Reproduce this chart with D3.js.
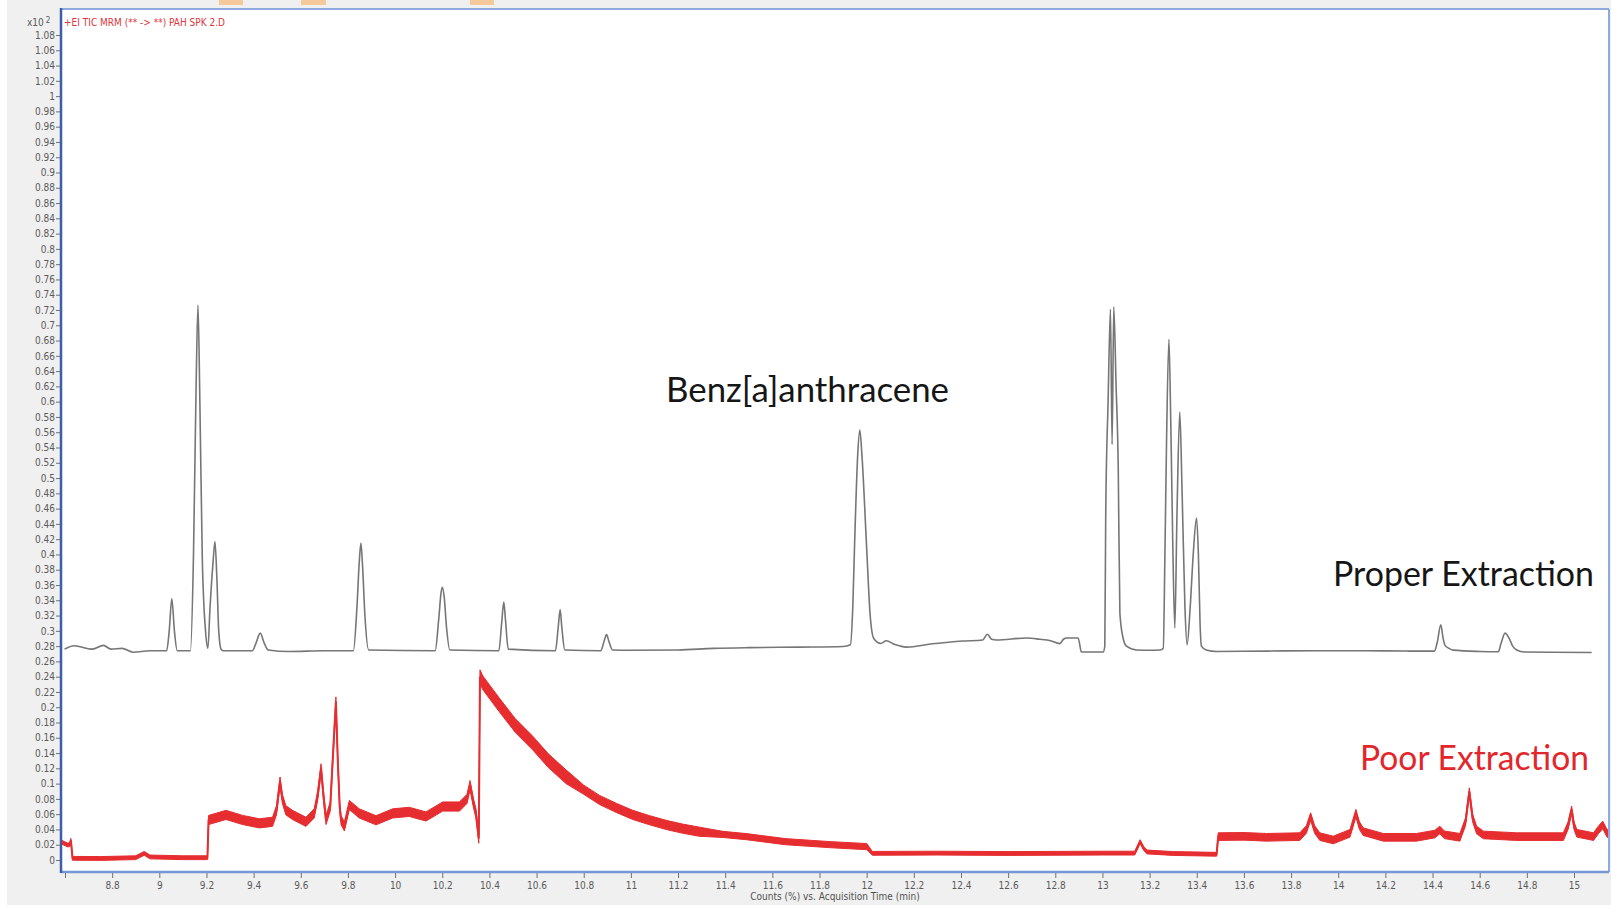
<!DOCTYPE html>
<html>
<head>
<meta charset="utf-8">
<script src="https://cdn.jsdelivr.net/npm/d3@7/dist/d3.min.js"></script>
<style>
  body { margin: 0; background: #fff; }
  svg { display: block; }
  .tick text { font-family: "Liberation Sans Narrow", "DejaVu Sans Condensed", "Liberation Sans", sans-serif; font-size: 10px; fill: #5a5a5a; }
  .tick line { stroke: #707070; }
  .note { font-family: Lato, "Open Sans", sans-serif; font-size: 35px; }
</style>
</head>
<body>
<div id="chart"></div>
<script>
// acquisition time (min) ticks
const xTicks = [8.6, 8.8, 9, 9.2, 9.4, 9.6, 9.8, 10, 10.2, 10.4, 10.6, 10.8, 11, 11.2, 11.4, 11.6,
  11.8, 12, 12.2, 12.4, 12.6, 12.8, 13, 13.2, 13.4, 13.6, 13.8, 14, 14.2, 14.4, 14.6, 14.8, 15];
// counts x10^2, 0 .. 1.08 every 0.02
const yTicks = d3.range(0, 55).map(i => +(i * 0.02).toFixed(2));

// [time, counts] (proper extraction)
const properTime = [
  8.598, 8.638, 8.716, 8.763, 8.795, 8.842, 8.889, 8.96, 9.022,
  9.031, 9.042, 9.053, 9.064, 9.076,
  9.132, 9.145, 9.156, 9.164, 9.172, 9.182, 9.196, 9.206,
  9.215, 9.228, 9.236, 9.244, 9.252, 9.262, 9.272,
  9.395, 9.41, 9.428, 9.445, 9.462, 9.55, 9.7,
  9.823, 9.838, 9.848, 9.855, 9.862, 9.872, 9.888,
  10.17, 10.185, 10.195, 10.2, 10.208, 10.218, 10.232,
  10.44, 10.452, 10.461, 10.468, 10.48,
  10.68, 10.692, 10.7, 10.707, 10.72,
  10.872, 10.887, 10.897, 10.907, 10.922,
  11.0, 11.2, 11.35, 11.5, 11.716, 11.9,
  11.931, 11.941, 11.949, 11.962, 11.971, 11.98, 11.999, 12.015, 12.03, 12.06, 12.083, 12.12, 12.168,
  12.28, 12.407, 12.492, 12.512, 12.53, 12.55, 12.678, 12.734, 12.78, 12.819, 12.835, 12.847, 12.897,
  12.911, 13.003,
  13.01, 13.014, 13.024, 13.034, 13.041, 13.048, 13.058, 13.067, 13.074, 13.088, 13.102, 13.144, 13.2, 13.245,
  13.258, 13.265, 13.272, 13.282, 13.29, 13.298, 13.307,
  13.316, 13.328, 13.338, 13.35, 13.359,
  13.372, 13.385, 13.399, 13.407, 13.414, 13.42, 13.44, 13.483,
  13.7, 13.9, 14.1, 14.3, 14.408,
  14.42, 14.435, 14.445, 14.453, 14.47, 14.488, 14.6, 14.679,
  14.69, 14.708, 14.725, 14.74, 14.757, 14.79, 14.9, 15.075
];
const properCounts = [
  0.276, 0.2805, 0.276, 0.281, 0.276, 0.277, 0.272, 0.274, 0.274,
  0.274, 0.30, 0.342, 0.30, 0.274,
  0.274, 0.40, 0.62, 0.7265, 0.60, 0.40, 0.30, 0.2774,
  0.33, 0.39, 0.417, 0.37, 0.30, 0.276, 0.274,
  0.274, 0.284, 0.297, 0.284, 0.275, 0.273, 0.274,
  0.274, 0.33, 0.39, 0.415, 0.385, 0.32, 0.275,
  0.274, 0.315, 0.35, 0.357, 0.345, 0.305, 0.275,
  0.274, 0.31, 0.3377, 0.315, 0.276,
  0.274, 0.305, 0.328, 0.305, 0.275,
  0.274, 0.287, 0.295, 0.286, 0.275,
  0.2745, 0.275, 0.277, 0.278, 0.2787, 0.2795,
  0.2818, 0.33, 0.415, 0.53, 0.5627, 0.53, 0.415, 0.32, 0.29, 0.2835, 0.287, 0.282, 0.2787,
  0.283, 0.2866, 0.288, 0.2955, 0.289, 0.288, 0.2906, 0.289, 0.287, 0.2833, 0.289, 0.2906, 0.2906,
  0.2723, 0.2723,
  0.28, 0.454, 0.60, 0.721, 0.544, 0.7243, 0.62, 0.515, 0.323, 0.29, 0.28, 0.275, 0.2745, 0.275,
  0.277, 0.40, 0.55, 0.6815, 0.57, 0.42, 0.3037,
  0.45, 0.5863, 0.48, 0.33, 0.2818,
  0.33, 0.40, 0.4478, 0.40, 0.31, 0.28, 0.275, 0.273,
  0.2735, 0.274, 0.274, 0.2735, 0.2735,
  0.285, 0.308, 0.29, 0.281, 0.277, 0.2747, 0.273, 0.2726,
  0.283, 0.297, 0.29, 0.28, 0.275, 0.2723, 0.272, 0.2717
];

// [time, counts] (poor extraction), centre of the noise band
const poorTime = [
  8.582, 8.61, 8.62, 8.625, 8.632, 8.75, 8.9, 8.936, 8.96, 9.1, 9.204,
  9.209, 9.283, 9.353, 9.424, 9.48, 9.497, 9.512, 9.522, 9.537, 9.565, 9.622, 9.657,
  9.672, 9.686, 9.696, 9.707, 9.725, 9.737, 9.749, 9.757, 9.765, 9.771, 9.785, 9.806,
  9.848, 9.919, 9.99, 10.06, 10.131, 10.202, 10.273, 10.305, 10.318, 10.332, 10.343, 10.355,
  10.36, 10.372, 10.442, 10.51, 10.584, 10.65, 10.725, 10.8, 10.867, 10.94, 11.008, 11.08,
  11.15, 11.22, 11.291, 11.39, 11.489, 11.655, 11.85, 12.001,
  12.024, 12.3, 12.6, 13.0, 13.137, 13.16, 13.175, 13.19, 13.3, 13.484,
  13.491, 13.6, 13.696, 13.837, 13.865, 13.883, 13.9, 13.922, 13.979, 14.05, 14.075, 14.09, 14.106,
  14.191, 14.332, 14.41, 14.431, 14.45, 14.516, 14.54, 14.556, 14.57, 14.587, 14.616, 14.757,
  14.955, 14.975, 14.99, 15.0, 15.012, 15.083, 15.105, 15.122, 15.14, 15.155
];
const poorCounts = [
  0.024, 0.0197, 0.02, 0.0258, 0.0022, 0.002, 0.003, 0.0087, 0.004, 0.003, 0.003,
  0.0524, 0.059, 0.0524, 0.048, 0.05, 0.065, 0.1027, 0.08, 0.065, 0.059, 0.05, 0.061,
  0.085, 0.12, 0.085, 0.0524, 0.07, 0.14, 0.2075, 0.13, 0.07, 0.052, 0.044, 0.072,
  0.061, 0.052, 0.061, 0.063, 0.057, 0.07, 0.07, 0.08, 0.098, 0.075, 0.061, 0.028,
  0.24, 0.232, 0.203, 0.176, 0.153, 0.13, 0.109, 0.092, 0.0786, 0.068, 0.059, 0.052,
  0.0459, 0.041, 0.037, 0.0335, 0.0306, 0.024, 0.02, 0.0175,
  0.0087, 0.009, 0.0085, 0.009, 0.009, 0.024, 0.015, 0.0105, 0.0085, 0.0075,
  0.0306, 0.031, 0.0297, 0.0306, 0.04, 0.0568, 0.04, 0.0306, 0.0262, 0.035, 0.0612, 0.045, 0.0371,
  0.0297, 0.0297, 0.034, 0.0393, 0.033, 0.0297, 0.05, 0.0895, 0.055, 0.0393, 0.0328, 0.0306,
  0.0306, 0.045, 0.0655, 0.045, 0.035, 0.0306, 0.04, 0.0459, 0.035, 0.033
];
// half-height of the red noise band, by stretch of time where it starts
const noiseFrom = [8.58, 9.207, 10.357, 10.8, 11.3, 12.02, 13.488];
const noiseHalf = [0.0025, 0.006, 0.009, 0.006, 0.004, 0.0025, 0.005];

const W = 1611, H = 908;
const frame = { left: 61, right: 1609, top: 9, bottom: 872 };

const svg = d3.select("#chart").append("svg")
  .attr("width", W)
  .attr("height", H);

// grey window background + white plot area
svg.append("rect").attr("x", 7).attr("y", 0).attr("width", W - 7).attr("height", 905).attr("fill", "#f0f0f0");
svg.append("rect")
  .attr("x", frame.left).attr("y", frame.top)
  .attr("width", frame.right - frame.left).attr("height", frame.bottom - frame.top)
  .attr("fill", "#fff");

// little orange tabs at the top edge of the screenshot
[[219, 243], [301, 326], [470, 494]].forEach(function (t) {
  svg.append("rect").attr("x", t[0]).attr("y", 0).attr("width", t[1] - t[0]).attr("height", 5)
    .attr("fill", "#f6c99a");
});

const x = d3.scaleLinear().domain([8.6, 15]).range([65, 1574]);
const y = d3.scaleLinear().domain([0, 1.08]).range([860, 35]);

svg.append("defs").append("clipPath").attr("id", "plotclip")
  .append("rect")
  .attr("x", frame.left + 1).attr("y", frame.top + 1)
  .attr("width", frame.right - frame.left - 2).attr("height", frame.bottom - frame.top - 2);

// y axis
svg.append("g")
  .attr("transform", "translate(" + frame.left + ",0)")
  .call(d3.axisLeft(y).tickValues(yTicks).tickSize(5).tickPadding(1)
    .tickFormat(d => String(+d.toFixed(2))))
  .call(g => g.select(".domain").remove());

// x axis
svg.append("g")
  .attr("transform", "translate(0," + frame.bottom + ")")
  .call(d3.axisBottom(x).tickValues(xTicks).tickSize(6).tickPadding(4)
    .tickFormat(d => d === 8.6 ? "" : String(+d.toFixed(1))))
  .call(g => g.select(".domain").remove());

// frame
svg.append("line").attr("x1", frame.left).attr("x2", frame.right).attr("y1", frame.top).attr("y2", frame.top)
  .attr("stroke", "#8eaadf").attr("stroke-width", 2);
svg.append("line").attr("x1", frame.right).attr("x2", frame.right).attr("y1", frame.top).attr("y2", frame.bottom)
  .attr("stroke", "#8eaadf").attr("stroke-width", 2);
svg.append("line").attr("x1", frame.left).attr("x2", frame.right).attr("y1", frame.bottom).attr("y2", frame.bottom)
  .attr("stroke", "#7797d4").attr("stroke-width", 2.5);
svg.append("line").attr("x1", frame.left).attr("x2", frame.left).attr("y1", frame.top - 1).attr("y2", frame.bottom + 1)
  .attr("stroke", "#3d5ea8").attr("stroke-width", 2.5);

const proper = properTime.map((t, i) => [t, properCounts[i]]);
const poor = poorTime.map((t, i) => {
  const k = d3.bisectRight(noiseFrom, t) - 1;
  return [t, poorCounts[i], noiseHalf[Math.max(k, 0)]];
});

const plot = svg.append("g").attr("clip-path", "url(#plotclip)");

plot.append("path")
  .datum(proper)
  .attr("d", d3.line()
    .x(d => x(d[0]))
    .y(d => y(d[1]))
    .curve(d3.curveMonotoneX))
  .attr("fill", "none")
  .attr("stroke", "#767676")
  .attr("stroke-width", 1.6);

// noisy red trace: solid band for the noise, core line on top
plot.append("path")
  .datum(poor)
  .attr("d", d3.area()
    .x(d => x(d[0]))
    .y0(d => y(d[1] - d[2]))
    .y1(d => y(d[1] + d[2])))
  .attr("fill", "#e62d30")
  .attr("stroke", "#e62d30")
  .attr("stroke-width", 1);
plot.append("path")
  .datum(poor)
  .attr("d", d3.line()
    .x(d => x(d[0]))
    .y(d => y(d[1])))
  .attr("fill", "none")
  .attr("stroke", "#e62d30")
  .attr("stroke-width", 2);

// header and axis titles
const small = "\"Liberation Sans Narrow\", \"DejaVu Sans Condensed\", \"Liberation Sans\", sans-serif";
svg.append("text").attr("x", 64).attr("y", 26)
  .style("font-family", small).style("font-size", "10px").attr("fill", "#e0353c")
  .text("+EI TIC MRM (** -> **) PAH SPK 2.D");

const mult = svg.append("text").attr("x", 27).attr("y", 26)
  .style("font-family", small).style("font-size", "10px").attr("fill", "#5a5a5a");
mult.append("tspan").text("x10");
mult.append("tspan").attr("dx", 2).attr("dy", -3).style("font-size", "8px").text("2");

svg.append("text").attr("x", 835).attr("y", 900)
  .attr("text-anchor", "middle")
  .style("font-family", small).style("font-size", "10px").attr("fill", "#505050")
  .text("Counts (%) vs. Acquisition Time (min)");

// trace annotations
svg.append("text").attr("class", "note")
  .attr("x", 666).attr("y", 402)
  .attr("textLength", 283).attr("lengthAdjust", "spacingAndGlyphs")
  .attr("fill", "#161616")
  .text("Benz[a]anthracene");

svg.append("text").attr("class", "note")
  .attr("x", 1333).attr("y", 586)
  .attr("textLength", 261).attr("lengthAdjust", "spacingAndGlyphs")
  .attr("fill", "#161616")
  .text("Proper Extraction");

svg.append("text").attr("class", "note")
  .attr("x", 1360).attr("y", 770)
  .attr("textLength", 229).attr("lengthAdjust", "spacingAndGlyphs")
  .attr("fill", "#e3262b")
  .text("Poor Extraction");
</script>
</body>
</html>
